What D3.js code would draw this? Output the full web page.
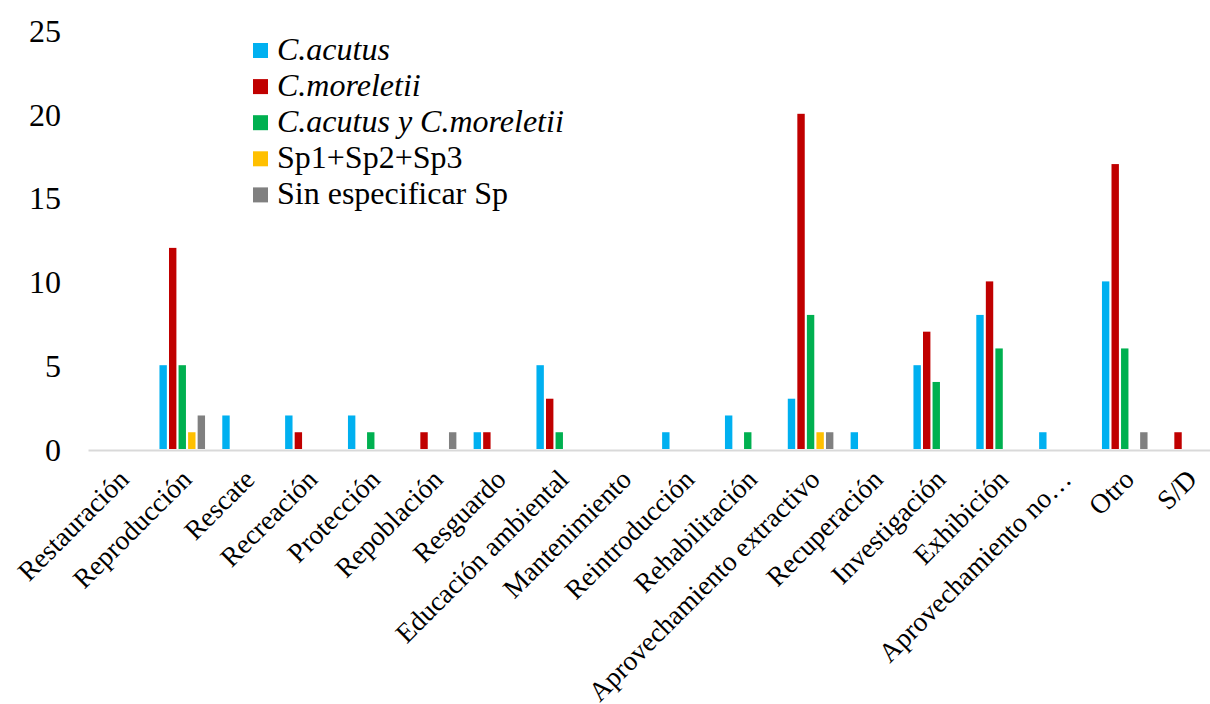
<!DOCTYPE html>
<html>
<head>
<meta charset="utf-8">
<script src="https://cdn.jsdelivr.net/npm/d3@7/dist/d3.min.js"></script>
<style>
	body {
		margin: 0;
		background: #ffffff;
	}
	svg {
		display: block;
	}
	svg text {
		font-family: "Liberation Serif", "Times New Roman", serif;
	}
</style>
</head>
<body>
<svg id="chart" width="1210" height="704"></svg>
<script>
// categories (x axis)
var categories = ["Restauración", "Reproducción", "Rescate", "Recreación", "Protección",
	"Repoblación", "Resguardo", "Educación ambiental", "Mantenimiento", "Reintroducción",
	"Rehabilitación", "Aprovechamiento extractivo", "Recuperación", "Investigación",
	"Exhibición", "Aprovechamiento no…", "Otro", "S/D"];

// series names
var seriesNames = ["C.acutus", "C.moreletii", "C.acutus y C.moreletii", "Sp1+Sp2+Sp3", "Sin especificar Sp"];
var seriesItalic = [true, true, true, false, false];
var seriesColors = ["#00b0f0", "#c00000", "#00b050", "#ffc000", "#808080"];

// values, one array per series, same order as categories
var acutus      = [0, 5, 2, 2, 2, 0, 1, 5, 0, 1, 2, 3, 1, 5, 8, 1, 10, 0];
var moreletii   = [0, 12, 0, 1, 0, 1, 1, 3, 0, 0, 0, 20, 0, 7, 10, 0, 17, 1];
var ambas       = [0, 5, 0, 0, 1, 0, 0, 1, 0, 0, 1, 8, 0, 4, 6, 0, 6, 0];
var sp123       = [0, 1, 0, 0, 0, 0, 0, 0, 0, 0, 0, 1, 0, 0, 0, 0, 0, 0];
var sinEspecif  = [0, 2, 0, 0, 0, 1, 0, 0, 0, 0, 0, 1, 0, 0, 0, 0, 1, 0];

var yTicks = [0, 5, 10, 15, 20, 25];

var seriesValues = [acutus, moreletii, ambas, sp123, sinEspecif];

var svg = d3.select("#chart");

// plot area (the original is cut a little at the right edge)
var plotLeft = 88, plotRight = 1219, plotTop = 30, plotBottom = 449;

var x0 = d3.scaleBand()
	.domain(categories)
	.range([plotLeft, plotRight])
	.paddingInner(0.2745)
	.paddingOuter(0.13725);

var x1 = d3.scaleBand()
	.domain(d3.range(seriesNames.length))
	.range([0, x0.bandwidth()])
	.paddingInner(0.225)
	.paddingOuter(0);

var y = d3.scaleLinear()
	.domain([0, 25])
	.range([plotBottom, plotTop]);

// y axis labels (no axis line, no gridlines)
var yAxis = d3.axisLeft(y).tickValues(yTicks).tickSize(0).tickPadding(0);
var gy = svg.append("g")
	.attr("transform", "translate(61,0)")
	.call(yAxis)
	.attr("font-family", null)
	.attr("font-size", null);
gy.select(".domain").remove();
gy.selectAll("text")
	.style("font-family", "'Liberation Serif', 'Times New Roman', serif")
	.style("font-size", "32px")
	.attr("fill", "#000")
	.attr("dy", "0.35em");

// bars
var rows = [];
categories.forEach(function(c, i) {
	seriesValues.forEach(function(vals, s) {
		if (vals[i] > 0) rows.push({cat: c, s: s, v: vals[i]});
	});
});

svg.append("g").selectAll("rect")
	.data(rows)
	.enter().append("rect")
	.attr("x", function(d) { return x0(d.cat) + x1(d.s); })
	.attr("y", function(d) { return y(d.v); })
	.attr("width", x1.bandwidth())
	.attr("height", function(d) { return y(0) - y(d.v); })
	.attr("fill", function(d) { return seriesColors[d.s]; });

// x axis line
var xAxis = d3.axisBottom(x0).tickSize(0).tickFormat("");
var gx = svg.append("g")
	.attr("transform", "translate(0," + (plotBottom + 1) + ")")
	.call(xAxis);
gx.select(".domain")
	.attr("stroke", "#d9d9d9")
	.attr("stroke-width", 2);

// rotated category labels
svg.append("g").selectAll("text")
	.data(categories)
	.enter().append("text")
	.attr("transform", function(d) {
		var cx = x0(d) + x0.bandwidth() / 2;
		return "translate(" + (cx + 11) + ",481) rotate(-45)";
	})
	.attr("text-anchor", "end")
	.style("font-size", "27.5px")
	.attr("fill", "#000")
	.text(function(d) { return d; });

// legend
var legend = svg.append("g").attr("transform", "translate(253,43)");
var item = legend.selectAll("g")
	.data(seriesNames)
	.enter().append("g")
	.attr("transform", function(d, i) { return "translate(0," + (i * 36.1) + ")"; });
item.append("rect")
	.attr("width", 15)
	.attr("height", 15)
	.attr("fill", function(d, i) { return seriesColors[i]; });
item.append("text")
	.attr("x", 24)
	.attr("y", 17)
	.style("font-size", "32px")
	.style("font-style", function(d, i) { return seriesItalic[i] ? "italic" : "normal"; })
	.attr("fill", "#000")
	.text(function(d) { return d; });
</script>
</body>
</html>
